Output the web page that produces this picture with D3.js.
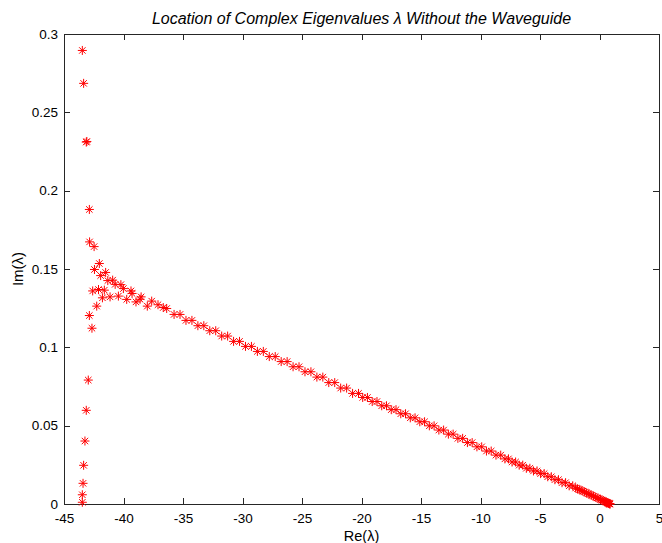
<!DOCTYPE html>
<html>
<head>
<meta charset="utf-8">
<script src="https://cdn.jsdelivr.net/npm/d3@7"></script>
<style>
  html, body { margin: 0; padding: 0; background: #fff; }
  svg { display: block; font-family: "Liberation Sans", Arial, sans-serif; }
</style>
</head>
<body>
<svg id="chart" width="662" height="543"></svg>
<script>
// Eigenvalues near the far-left branch (vertical column and the two arms)
const headRe = [-43.46, -43.35, -43.13, -43.08, -42.87, -42.85, -42.47, -42.03, -42.44, -41.50,
                -41.92, -41.32, -40.91, -40.70, -40.22, -40.01, -39.37, -39.28, -38.52, -38.61,
                -37.63, -38.00, -37.10, -36.66, -36.37, -42.59, -42.10, -41.61, -41.77, -41.13,
                -40.43, -39.73, -38.95, -42.25, -42.87, -42.65, -42.96, -43.13, -43.24, -43.35,
                -43.40, -43.46, -43.46];
const headIm = [0.2895, 0.2685, 0.2310, 0.2314, 0.1880, 0.1673, 0.1643, 0.1535, 0.1497, 0.1478,
                0.1458, 0.1426, 0.1429, 0.1402, 0.1400, 0.1375, 0.1360, 0.1344, 0.1322, 0.1307,
                0.1295, 0.1263, 0.1272, 0.1254, 0.1248, 0.1360, 0.1369, 0.1365, 0.1316, 0.1322,
                0.1327, 0.1306, 0.1290, 0.1263, 0.1203, 0.1122, 0.0791, 0.0598, 0.0402, 0.0247,
                0.0132, 0.0059, 0.0011];

// Eigenvalues along the long descending branch towards Re = 1
const lineRe = [
  -35.75, -35.25, -34.75, -34.25, -33.75, -33.25, -32.75, -32.25, -31.75, -31.25,
  -30.75, -30.25, -29.75, -29.25, -28.75, -28.25, -27.75, -27.25, -26.75, -26.25,
  -25.75, -25.25, -24.75, -24.25, -23.75, -23.25, -22.75, -22.25, -21.75, -21.25,
  -20.75, -20.25,
  -19.9, -19.5, -19.1, -18.7, -18.3, -17.9, -17.5, -17.1, -16.7, -16.3,
  -15.9, -15.5, -15.1, -14.7, -14.3, -13.9, -13.5, -13.1, -12.7, -12.3,
  -11.9, -11.5, -11.1, -10.7, -10.3, -9.9, -9.5, -9.1, -8.7, -8.3,
  -7.95, -7.65, -7.35, -7.05, -6.75, -6.45, -6.15, -5.85, -5.55, -5.25,
  -4.95, -4.65, -4.35, -4.05, -3.75, -3.45, -3.15, -2.85, -2.55, -2.25,
  -2.0, -1.85, -1.7, -1.55, -1.4, -1.25, -1.1, -0.95, -0.8, -0.65,
  -0.5, -0.35, -0.2, -0.05, 0.08, 0.2, 0.31, 0.41, 0.5, 0.58,
  0.65, 0.71, 0.76, 0.8, 0.84, 0.87, 0.89
];
const lineIm = [
  0.1210, 0.1210, 0.1172, 0.1172, 0.1138, 0.1138, 0.1106, 0.1106, 0.1072, 0.1072,
  0.1038, 0.1038, 0.1006, 0.1006, 0.0974, 0.0974, 0.0941, 0.0941, 0.0909, 0.0909,
  0.0876, 0.0876, 0.0844, 0.0844, 0.0810, 0.0810, 0.0775, 0.0775, 0.0740, 0.0740,
  0.0706, 0.0706,
  0.0680, 0.0680, 0.0654, 0.0654, 0.0627, 0.0627, 0.0602, 0.0602, 0.0576, 0.0576,
  0.0550, 0.0550, 0.0525, 0.0525, 0.0499, 0.0499, 0.0472, 0.0472, 0.0446, 0.0446,
  0.0419, 0.0419, 0.0392, 0.0392, 0.0365, 0.0365, 0.0338, 0.0338, 0.0312, 0.0312,
  0.0288, 0.0288, 0.0268, 0.0268, 0.0248, 0.0248, 0.0228, 0.0228, 0.0211, 0.0211,
  0.0194, 0.0194, 0.0174, 0.0174, 0.0155, 0.0155, 0.0136, 0.0136, 0.0116, 0.0116,
  0.0102, 0.0097, 0.0092, 0.0087, 0.0082, 0.0077, 0.0071, 0.0066, 0.0061, 0.0055,
  0.0050, 0.0044, 0.0039, 0.0034, 0.0029, 0.0025, 0.0021, 0.0017, 0.0014, 0.0011,
  0.0008, 0.0006, 0.0004, 0.0003, 0.0002, 0.0001, 0.0000
];

const xTicks = [-45, -40, -35, -30, -25, -20, -15, -10, -5, 0, 5];
const yTicks = [0, 0.05, 0.1, 0.15, 0.2, 0.25, 0.3];
const xTickLabels = ["-45", "-40", "-35", "-30", "-25", "-20", "-15", "-10", "-5", "0", "5"];
const yTickLabels = ["0", "0.05", "0.1", "0.15", "0.2", "0.25", "0.3"];

const svg = d3.select("#chart");
const plotLeft = 64, plotRight = 659, plotTop = 34, plotBottom = 504;

const x = d3.scaleLinear().domain([-45, 5]).range([plotLeft, plotRight]);
const y = d3.scaleLinear().domain([0, 0.3]).range([plotBottom, plotTop]);

const axisColor = "#262626";
const tickLen = 6;

// frame
svg.append("rect")
  .attr("x", plotLeft).attr("y", plotTop)
  .attr("width", plotRight - plotLeft).attr("height", plotBottom - plotTop)
  .attr("fill", "none").attr("stroke", axisColor).attr("stroke-width", 1)
  .attr("shape-rendering", "crispEdges");

function styleAxis(g) {
  g.select(".domain").remove();
  g.selectAll(".tick line").attr("stroke", axisColor).attr("shape-rendering", "crispEdges");
  g.selectAll(".tick text").attr("fill", "#000")
    .style("font-size", "13.5px").style("font-family", "'Liberation Sans', Arial, sans-serif");
}

// bottom axis: inward ticks, labels below
svg.append("g").attr("transform", `translate(0,${plotBottom})`)
  .call(d3.axisBottom(x).tickValues(xTicks).tickFormat((d, i) => xTickLabels[i])
        .tickSizeInner(-tickLen).tickSizeOuter(0).tickPadding(9))
  .call(styleAxis);
// top mirror ticks
svg.append("g").attr("transform", `translate(0,${plotTop})`)
  .call(d3.axisTop(x).tickValues(xTicks).tickFormat("").tickSizeInner(-tickLen).tickSizeOuter(0))
  .call(styleAxis);
// left axis
svg.append("g").attr("transform", `translate(${plotLeft},0)`)
  .call(d3.axisLeft(y).tickValues(yTicks).tickFormat((d, i) => yTickLabels[i])
        .tickSizeInner(-tickLen).tickSizeOuter(0).tickPadding(6))
  .call(styleAxis);
// right mirror ticks
svg.append("g").attr("transform", `translate(${plotRight},0)`)
  .call(d3.axisRight(y).tickValues(yTicks).tickFormat("").tickSizeInner(-tickLen).tickSizeOuter(0))
  .call(styleAxis);

// asterisk markers
const star = "M-4.5,0H4.5M0,-4.5V4.5M-3.2,-3.2L3.2,3.2M-3.2,3.2L3.2,-3.2";
const pts = headRe.map((r, i) => [r, headIm[i]])
  .concat(lineRe.map((r, i) => [r, lineIm[i]]));

svg.append("g").selectAll("path").data(pts).join("path")
  .attr("d", star)
  .attr("transform", d => `translate(${x(d[0])},${y(d[1])})`)
  .attr("fill", "none").attr("stroke", "#ff0000").attr("stroke-width", 1);

// title and axis labels
svg.append("text")
  .attr("x", (plotLeft + plotRight) / 2).attr("y", 24)
  .attr("text-anchor", "middle")
  .style("font-size", "16px").style("font-style", "italic")
  .text("Location of Complex Eigenvalues λ Without the Waveguide");

svg.append("text")
  .attr("x", (plotLeft + plotRight) / 2).attr("y", 541)
  .attr("text-anchor", "middle")
  .style("font-size", "14.5px")
  .text("Re(λ)");

svg.append("text")
  .attr("transform", `translate(23,${(plotTop + plotBottom) / 2}) rotate(-90)`)
  .attr("text-anchor", "middle")
  .style("font-size", "15px")
  .text("Im(λ)");
</script>
</body>
</html>
